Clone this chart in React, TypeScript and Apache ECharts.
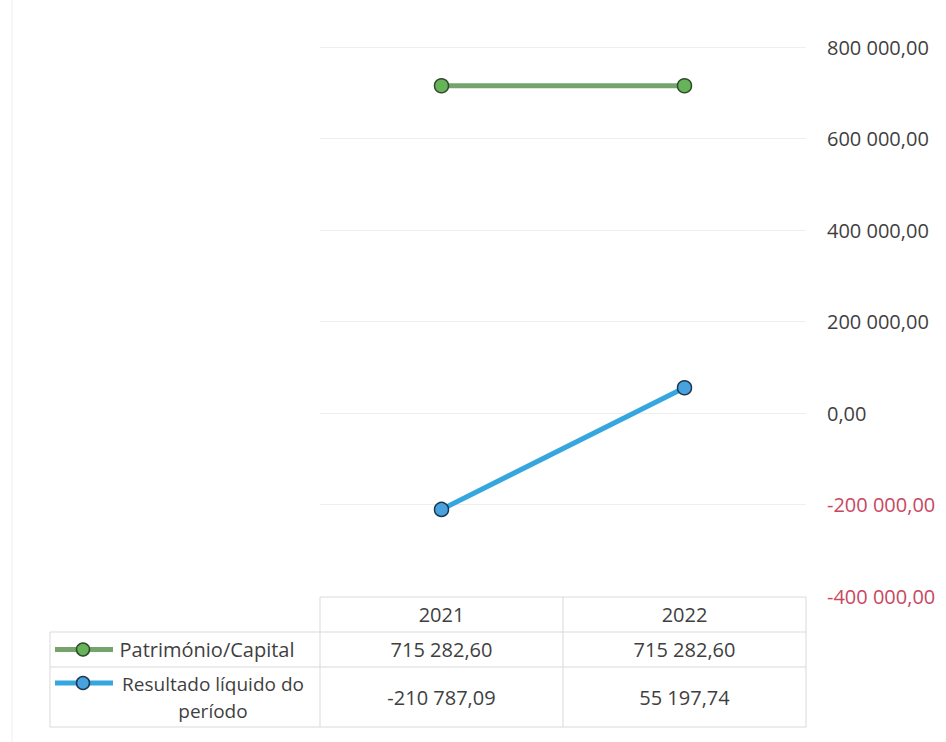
import React, { useEffect, useRef } from "react";
import * as echarts from "echarts";

const categories = ["2021", "2022"];
const patrimonio = [715282.6, 715282.6];
const resultado = [-210787.09, 55197.74];
const seriesNames = ["Património/Capital", "Resultado líquido do período"];
const legendLines = [["Património/Capital"], ["Resultado líquido do", "período"]];
const yMin = -400000;
const yMax = 800000;
const yStep = 200000;

const FONT = "'Open Sans', sans-serif";
const FS = 20;
const TEXT = "#3f3f3f";
const NEG = "#c9475f";
const GREEN_LINE = "#74a46c";
const GREEN_FILL = "#67b35a";
const BLUE_LINE = "#35a6de";
const BLUE_FILL = "#47a2dd";

function fmt(v: number): string {
  const neg = v < 0;
  const [i, d] = Math.abs(v).toFixed(2).split(".");
  const ii = i.replace(/\B(?=(\d{3})+(?!\d))/g, " ");
  return (neg ? "-" : "") + ii + "," + d;
}

export default function App() {
  const ref = useRef<HTMLDivElement>(null);
  useEffect(() => {
    if (!ref.current) return;
    const chart = echarts.init(ref.current, null, { renderer: "svg" });
    const gl = 320;
    const gr = 806;
    const colW = (gr - gl) / categories.length;
    const tableTop = 597;
    const rowH = [35, 35, 60];
    const rowY = [tableTop, tableTop + rowH[0], tableTop + rowH[0] + rowH[1]];
    const tableBottom = rowY[2] + rowH[2];
    const legendLeft = 50;
    const lineC = "#d9d9d9";

    const graphics: any[] = [];
    graphics.push({ type: "line", shape: { x1: 12, y1: 0, x2: 12, y2: 742 }, style: { stroke: "#efefef", lineWidth: 1 } });
    graphics.push({ type: "line", shape: { x1: gl, y1: tableTop, x2: gr, y2: tableTop }, style: { stroke: lineC, lineWidth: 1 } });
    [rowY[1], rowY[2], tableBottom].forEach((y) =>
      graphics.push({ type: "line", shape: { x1: legendLeft, y1: y, x2: gr, y2: y }, style: { stroke: lineC, lineWidth: 1 } })
    );
    graphics.push({ type: "line", shape: { x1: legendLeft, y1: rowY[1], x2: legendLeft, y2: tableBottom }, style: { stroke: lineC, lineWidth: 1 } });
    for (let c = 0; c <= categories.length; c++) {
      const x = gl + c * colW;
      graphics.push({ type: "line", shape: { x1: x, y1: tableTop, x2: x, y2: tableBottom }, style: { stroke: lineC, lineWidth: 1 } });
    }
    const txt = (x: number, y: number, s: string, fs = FS) => ({
      type: "text",
      x,
      y,
      style: { text: s, fill: TEXT, font: `${fs}px ${FONT}`, align: "center", verticalAlign: "middle", lineHeight: 27 },
    });
    categories.forEach((c, i) => {
      const cx = gl + colW * (i + 0.5);
      graphics.push(txt(cx, rowY[0] + rowH[0] / 2, c));
      graphics.push(txt(cx, rowY[1] + rowH[1] / 2, fmt(patrimonio[i])));
      graphics.push(txt(cx, rowY[2] + rowH[2] / 2, fmt(resultado[i])));
    });
    const keys = [
      { line: GREEN_LINE, fill: GREEN_FILL, border: "#2f4a2c" },
      { line: BLUE_LINE, fill: BLUE_FILL, border: "#1d3652" },
    ];
    const keyY = [rowY[1] + rowH[1] / 2, rowY[2] + 16];
    keys.forEach((k, i) => {
      const y = keyY[i];
      graphics.push({ type: "line", shape: { x1: 55, y1: y, x2: 113, y2: y }, style: { stroke: k.line, lineWidth: 5 } });
      graphics.push({ type: "circle", shape: { cx: 83, cy: y, r: 6.5 }, style: { fill: k.fill, stroke: k.border, lineWidth: 1.5 } });
    });
    graphics.push(txt(207, rowY[1] + rowH[1] / 2, legendLines[0].join("\n")));
    graphics.push(txt(213, rowY[2] + rowH[2] / 2, legendLines[1].join("\n"), 19));

    chart.setOption({
      animation: false,
      backgroundColor: "#ffffff",
      grid: { left: gl, right: 946 - gr, top: 47, bottom: 742 - 596 },
      xAxis: {
        type: "category",
        data: categories,
        boundaryGap: true,
        axisLine: { show: false, onZero: false },
        axisTick: { show: false },
        axisLabel: { show: false },
        splitLine: { show: false },
      },
      yAxis: {
        type: "value",
        position: "right",
        min: yMin,
        max: yMax,
        interval: yStep,
        axisLine: { show: false },
        axisTick: { show: false },
        splitLine: { show: true, lineStyle: { color: "#eeeeee", width: 1 } },
        axisLabel: {
          margin: 21,
          fontFamily: FONT,
          fontSize: FS,
          color: TEXT,
          formatter: (v: number) => (v < 0 ? `{neg|${fmt(v)}}` : fmt(v)),
          rich: { neg: { color: NEG, fontFamily: FONT, fontSize: FS } },
        },
      },
      series: [
        {
          name: seriesNames[0],
          type: "line",
          data: patrimonio,
          symbol: "circle",
          symbolSize: 14,
          lineStyle: { color: GREEN_LINE, width: 5 },
          itemStyle: { color: GREEN_FILL, borderColor: "#2f4a2c", borderWidth: 1.5 },
        },
        {
          name: seriesNames[1],
          type: "line",
          data: resultado,
          symbol: "circle",
          symbolSize: 14,
          lineStyle: { color: BLUE_LINE, width: 5 },
          itemStyle: { color: BLUE_FILL, borderColor: "#1d3652", borderWidth: 1.5 },
        },
      ],
      graphic: graphics,
    });
    return () => chart.dispose();
  }, []);
  return <div ref={ref} style={{ position: "fixed", left: 0, top: 0, width: 946, height: 742 }} />;
}
